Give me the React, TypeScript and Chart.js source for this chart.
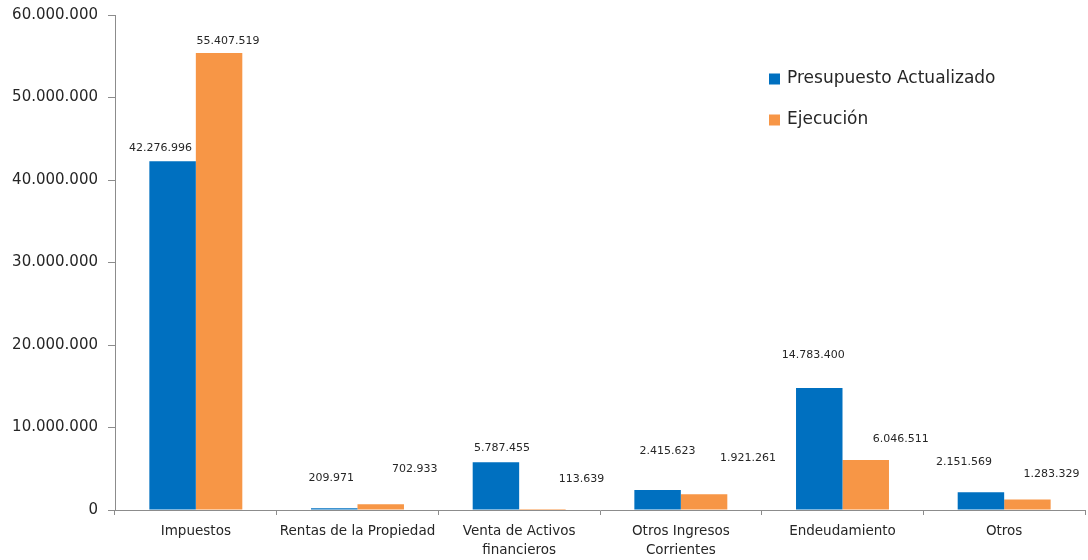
import React, { useEffect, useRef } from "react";
import { Chart, registerables } from "chart.js";

Chart.register(...registerables);

const categories: (string | string[])[] = [
  "Impuestos",
  "Rentas de la Propiedad",
  ["Venta de Activos", "financieros"],
  ["Otros Ingresos", "Corrientes"],
  "Endeudamiento",
  "Otros",
];
const presupuesto = [42276996, 209971, 5787455, 2415623, 14783400, 2151569];
const ejecucion = [55407519, 702933, 113639, 1921261, 6046511, 1283329];
const seriesNames = ["Presupuesto Actualizado", "Ejecución"];
const yTicks = [0, 10000000, 20000000, 30000000, 40000000, 50000000, 60000000];

// label nudges (manual placement as in the original) [dx, rise above bar top]
const labelNudge: number[][][] = [
  [[-12, 13], [-3, 30], [6, 14], [10, 39], [-6, 33], [-17, 30]],
  [[9, 12], [34, 35], [39, 30], [44, 36], [35, 21], [24, 25]],
];

const BLUE = "#0070C0";
const ORANGE = "#F79646";
const AXIS = "#8c8c8c";
const TEXT = "#262626";
const FONT = "'DejaVu Sans', sans-serif";

const fmt = (v: number) => String(Math.round(v)).replace(/\B(?=(\d{3})+(?!\d))/g, ".");

const labelsPlugin = {
  id: "valueLabels",
  afterDatasetsDraw(chart: any) {
    const ctx = chart.ctx;
    ctx.save();
    ctx.font = `11px ${FONT}`;
    ctx.fillStyle = TEXT;
    ctx.textAlign = "center";
    ctx.textBaseline = "middle";
    chart.data.datasets.forEach((ds: any, di: number) => {
      const meta = chart.getDatasetMeta(di);
      meta.data.forEach((bar: any, i: number) => {
        const n = labelNudge[di][i];
        ctx.fillText(fmt(ds.data[i]), bar.x + n[0], bar.y - n[1]);
      });
    });
    ctx.restore();
  },
};

const legendPlugin = {
  id: "insideLegend",
  afterDraw(chart: any) {
    const ctx = chart.ctx;
    const area = chart.chartArea;
    ctx.save();
    ctx.font = `17px ${FONT}`;
    ctx.textBaseline = "middle";
    ctx.textAlign = "left";
    const x0 = area.left + 654;
    const rows = [area.top + 64, area.top + 105];
    chart.data.datasets.forEach((ds: any, di: number) => {
      const cy = rows[di];
      ctx.fillStyle = ds.backgroundColor;
      ctx.fillRect(x0, cy - 5.5, 11, 11);
      ctx.fillStyle = TEXT;
      ctx.fillText(ds.label, x0 + 18, cy);
    });
    ctx.restore();
  },
};

export default function App() {
  const ref = useRef<HTMLCanvasElement | null>(null);
  useEffect(() => {
    if (!ref.current) return;
    const chart = new Chart(ref.current, {
      type: "bar",
      data: {
        labels: categories,
        datasets: [
          { label: seriesNames[0], data: presupuesto, backgroundColor: BLUE },
          { label: seriesNames[1], data: ejecucion, backgroundColor: ORANGE },
        ],
      },
      options: {
        animation: false,
        responsive: true,
        maintainAspectRatio: false,
        layout: { padding: { top: 15, right: 3, left: 0, bottom: 0 } },
        plugins: {
          legend: { display: false },
          tooltip: { enabled: false },
        },
        datasets: {
          bar: { categoryPercentage: 0.575, barPercentage: 1 },
        },
        scales: {
          x: {
            offset: true,
            grid: {
              offset: true,
              drawOnChartArea: false,
              drawTicks: true,
              tickLength: 5,
              color: AXIS,
            },
            border: { display: true, color: AXIS, width: 1 },
            ticks: {
              color: TEXT,
              font: { family: FONT, size: 13.5, lineHeight: 1.42 },
              padding: 7,
              maxRotation: 0,
              autoSkip: false,
            },
            afterFit(scale: any) {
              scale.height = 50;
              scale.paddingLeft = 0;
              scale.paddingRight = 0;
            },
          },
          y: {
            min: 0,
            max: 60000000,
            afterBuildTicks(scale: any) {
              scale.ticks = yTicks.map((v) => ({ value: v }));
            },
            grid: {
              drawOnChartArea: false,
              drawTicks: true,
              tickLength: 7,
              color: AXIS,
            },
            border: { display: true, color: AXIS, width: 1 },
            ticks: {
              color: TEXT,
              font: { family: FONT, size: 15 },
              padding: 10,
              callback: (v: any) => fmt(Number(v)),
            },
            afterFit(scale: any) {
              scale.width = 115;
              scale.paddingTop = 0;
              scale.paddingBottom = 0;
            },
          },
        },
      },
      plugins: [labelsPlugin, legendPlugin],
    });
    return () => chart.destroy();
  }, []);

  return (
    <div
      style={{
        position: "fixed",
        left: 0,
        top: 0,
        width: 1088,
        height: 560,
        background: "#ffffff",
      }}
    >
      <canvas ref={ref} />
    </div>
  );
}
